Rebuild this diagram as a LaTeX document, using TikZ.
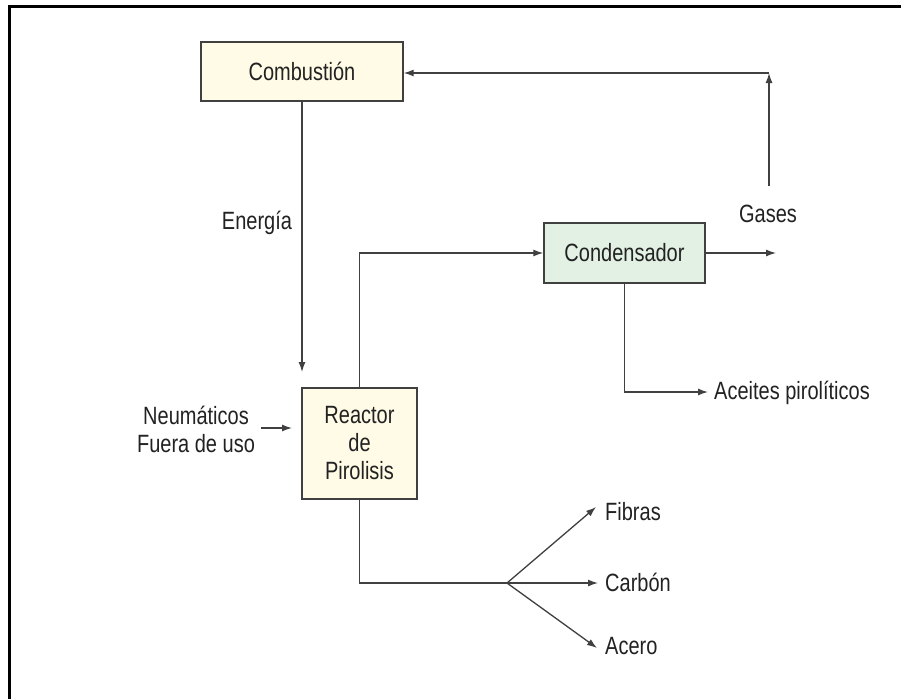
\documentclass[tikz,border=0pt]{standalone}
\usepackage{fontspec}
\setmainfont{Liberation Sans}[FakeStretch=0.8]
\usetikzlibrary{arrows.meta}
\definecolor{txt}{HTML}{222222}
\definecolor{lin}{HTML}{404040}
\definecolor{boxy}{HTML}{FFFBE6}
\definecolor{boxg}{HTML}{E2F1E4}
\tikzset{
  blk/.style={draw=lin, line width=1.4pt, text=txt, inner sep=0pt, align=center,
              font=\fontsize{25}{28}\selectfont},
  lbl/.style={text=txt, inner sep=0pt, align=center, font=\fontsize{25}{28}\selectfont},
  con/.style={draw=lin, line width=1.3pt},
  arr/.style={con, -{Latex[length=10pt,width=7pt]}}
}
\begin{document}
\begin{tikzpicture}[x=1pt,y=-1pt]
\useasboundingbox (0,0) rectangle (901,699);
\fill[white] (0,0) rectangle (901,699);
% frame
\draw[black, line width=3pt] (9.5,699) -- (9.5,6) -- (901,6);
% boxes
\node[blk, fill=boxy, minimum width=202, minimum height=59] (comb) at (302,71.5) {Combustión};
\node[blk, fill=boxg, minimum width=161, minimum height=60] (cond) at (624.5,253) {Condensador};
\node[blk, fill=boxy, minimum width=115, minimum height=111] (reac) at (359.5,443.5) {Reactor\\de\\Pirolisis};
% labels
\node[lbl] (ener) at (257,223) {Energía};
\node[lbl] (gas) at (768,214) {Gases};
\node[lbl] (neu) at (196,429) {Neumáticos\\Fuera de uso};
\node[lbl, anchor=west] (ace) at (714,393) {Aceites pirolíticos};
\node[lbl, anchor=west] (fib) at (605,512) {Fibras};
\node[lbl, anchor=west] (car) at (605,582) {Carbón};
\node[lbl, anchor=west] (ace2) at (605,646) {Acero};
% coordinates
\coordinate (gbot) at (769,186);
\coordinate (gtop) at (769,73);
\coordinate (gout) at (776,253);
\coordinate (eend) at (302,372);
\coordinate (nst) at (261,428);
\coordinate (nend) at (292,428);
\coordinate (aend) at (708,392);
\coordinate (br) at (507,583);
\coordinate (tfib) at (596,507);
\coordinate (tcar) at (598,583);
\coordinate (tace) at (597,648);
% connectors
\draw[arr] (gbot) -- (gtop);
\draw[arr] (gtop) -- (gtop -| comb.east);
\draw[arr] (cond.east) -- (gout);
\draw[arr] (comb.south) -- (eend);
\draw[arr] (reac.north) |- (cond.west);
\draw[arr] (nst) -- (nend);
\draw[arr] (cond.south) |- (aend);
\draw[con] (reac.south) |- (br);
\draw[arr] (br) -- (tfib);
\draw[arr] (br) -- (tcar);
\draw[arr] (br) -- (tace);
\end{tikzpicture}
\end{document}
